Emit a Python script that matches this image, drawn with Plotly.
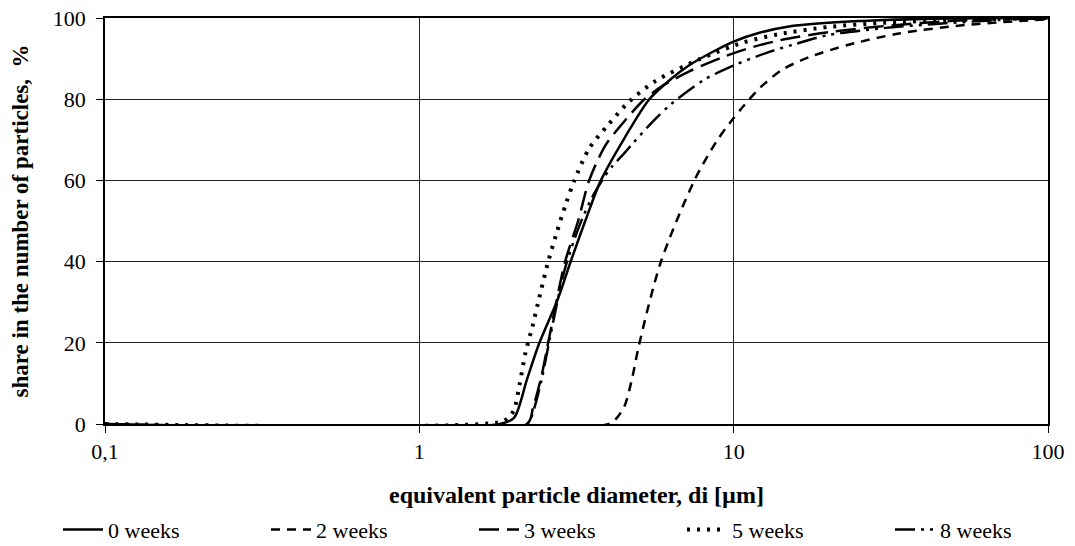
import plotly.graph_objects as go

# --- data ---
d_0w = [0.1, 1.8, 2.0, 2.2, 2.41, 2.75, 3.03, 3.39, 3.78, 4.5, 5.39, 6.3, 7.2, 8.5, 10, 12, 15, 20, 30, 50, 100]
v_0w = [0, 0, 1.5, 11, 20, 30.5, 40, 50.5, 60, 70.5, 80, 84.9, 88.3, 91.5, 94.2, 96.3, 97.9, 98.8, 99.5, 99.9, 100]

d_2w = [0.1, 4.02, 4.25, 4.5, 4.76, 5.0, 5.87, 7.5, 8.8, 9.8, 10.8, 12.2, 14.3, 17.3, 23.2, 33.6, 55, 100]
v_2w = [0, 0, 1.5, 4.5, 11.5, 19.5, 40, 60, 69.5, 74.5, 78.5, 83, 87.3, 90.3, 93.4, 96.2, 98.3, 99.7]

d_3w = [0.1, 2.2, 2.3, 2.45, 2.6, 2.91, 3.2, 3.47, 3.9, 4.54, 5.2, 5.94, 7.2, 9.2, 11, 14, 20, 30, 50, 100]
v_3w = [0, 0, 4, 12, 22, 40, 50, 60, 68.5, 75, 80, 83.3, 86.8, 90.3, 92.4, 94.5, 96.5, 98, 99.3, 100]

d_5w = [0.1, 1.84, 1.93, 2.0, 2.08, 2.18, 2.29, 2.38, 2.56, 2.72, 2.93, 3.11, 3.47, 4.0, 4.65, 5.65, 7.76, 10.66, 13.9, 20, 30, 50, 100]
v_5w = [0, 0.6, 1.8, 3.4, 9.4, 17.8, 24, 29.5, 39.5, 46.5, 54.4, 59.9, 67.9, 73.8, 79.4, 84.5, 89.8, 93.9, 96, 97.8, 98.8, 99.5, 100]

d_8w = [0.1, 2.2, 2.3, 2.45, 2.6, 2.9, 3.2, 3.5, 3.85, 4.12, 4.49, 4.8, 5.53, 6.32, 8.06, 10, 12.6, 15.4, 20, 30, 45, 70, 100]
v_8w = [0, 0, 3, 11, 21, 38, 48, 55, 60.5, 63.6, 66.7, 69.3, 74.5, 78.8, 84.8, 88.3, 91.3, 93.4, 95.8, 97.5, 98.6, 99.5, 100]

series_names = ["0 weeks", "2 weeks", "3 weeks", "5 weeks", "8 weeks"]
x_tickvals = [0.1, 1, 10, 100]
x_ticktext = ["0,1", "1", "10", "100"]
y_tickvals = [0, 20, 40, 60, 80, 100]
x_title = "equivalent particle diameter, di [µm]"
y_title = "share in the number of particles,  %"

styles = [
    dict(width=2.5, dash="solid"),
    dict(width=2.5, dash="9px,7px"),
    dict(width=2.5, dash="20px,8px"),
    dict(width=4, dash="3px,7px"),
    dict(width=2.5, dash="20px,6px,3px,6px,3px,6px"),
]

fig = go.Figure()
for name, xs, ys, st in zip(series_names,
                            [d_0w, d_2w, d_3w, d_5w, d_8w],
                            [v_0w, v_2w, v_3w, v_5w, v_8w],
                            styles):
    fig.add_trace(go.Scatter(x=xs, y=ys, mode="lines", name=name,
                             line=dict(color="black", shape="spline", smoothing=0.8, **st)))

font = "Liberation Serif, Times New Roman, serif"
fig.update_layout(
    width=1075, height=546,
    margin=dict(l=105, r=27, t=18, b=122, autoexpand=False),
    paper_bgcolor="white", plot_bgcolor="white",
    font=dict(family=font, size=22, color="black"),
    showlegend=True,
    legend=dict(orientation="h", x=-47 / 943, xanchor="left", xref="paper",
                y=-0.312, yanchor="bottom", yref="paper",
                font=dict(family=font, size=22, color="black"),
                entrywidth=153, itemwidth=40, traceorder="normal"),
    xaxis=dict(type="log", range=[-1, 2], tickvals=x_tickvals, ticktext=x_ticktext,
               showgrid=True, gridcolor="#222", gridwidth=1,
               showline=True, linecolor="black", linewidth=1.5, mirror=True,
               ticks="outside", ticklen=7, tickcolor="black",
               tickfont=dict(size=22), automargin=False,
               zeroline=False),
    yaxis=dict(range=[0, 100], tickvals=y_tickvals,
               showgrid=True, gridcolor="#222", gridwidth=1,
               showline=True, linecolor="black", linewidth=1.5, mirror=True,
               ticks="outside", ticklen=7, tickcolor="black",
               tickfont=dict(size=22), automargin=False, ticklabelstandoff=6,
               title=dict(text="<b>" + y_title + "</b>",
                          font=dict(size=23), standoff=18),
               zeroline=False),
)
fig.add_annotation(text="<b>" + x_title + "</b>", xref="paper", yref="paper",
                   x=0.5, y=0, xanchor="center", yanchor="top", yshift=-56,
                   showarrow=False, font=dict(family=font, size=24, color="black"))

fig.write_html("out.html", config={"displayModeBar": False},
               post_script="document.body.style.margin='0px';")
